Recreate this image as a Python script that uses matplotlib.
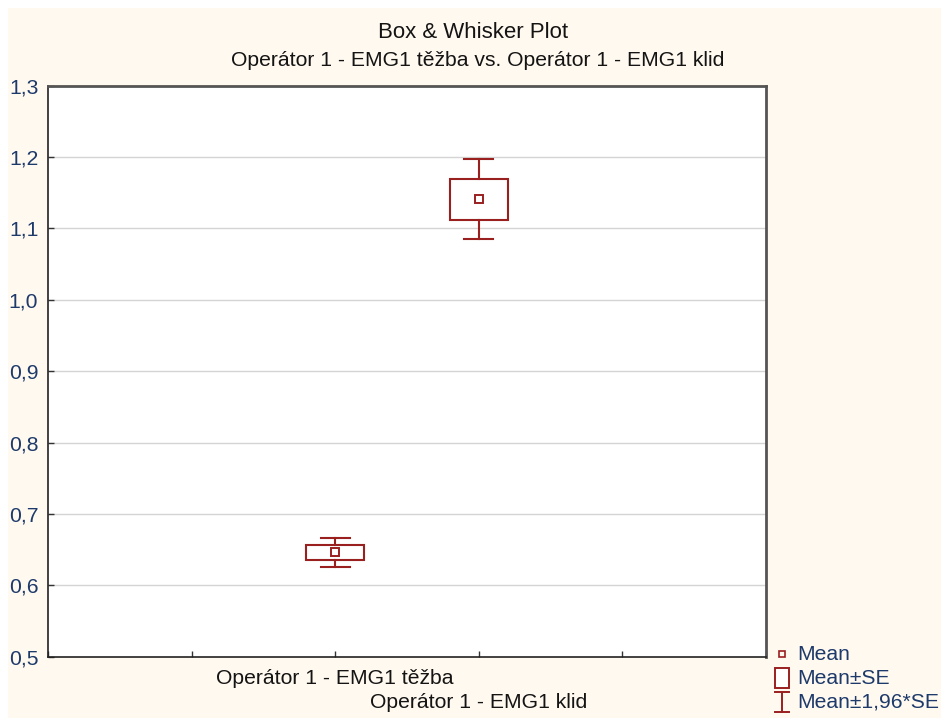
import matplotlib
matplotlib.use("Agg")
import matplotlib.pyplot as plt
from matplotlib.patches import Rectangle
from matplotlib.lines import Line2D

# ---- data ----
categories = ["Operátor 1 - EMG1 těžba", "Operátor 1 - EMG1 klid"]
means = [0.646, 1.141]
se = [0.0105, 0.0287]
y_ticks = [0.5, 0.6, 0.7, 0.8, 0.9, 1.0, 1.1, 1.2, 1.3]
y_tick_labels = ["0,5", "0,6", "0,7", "0,8", "0,9", "1,0", "1,1", "1,2", "1,3"]
title_lines = ["Box & Whisker Plot",
               "Operátor 1 - EMG1 těžba vs. Operátor 1 - EMG1 klid"]
legend_labels = ["Mean", "Mean±SE", "Mean±1,96*SE"]
z = 1.96

RED = "#9a1f1f"
CREAM = "#fff9ef"
TXT = "#141414"
TICKTXT = "#1d3a6b"
FS = 15.2
plt.rcParams["font.family"] = ["Liberation Sans", "DejaVu Sans"]

W, H = 941, 718
fig = plt.figure(figsize=(W / 100, H / 100), dpi=100, facecolor="white")
fig.add_artist(Rectangle((8 / W, 0), 1, 1 - 8 / H, transform=fig.transFigure,
                         facecolor=CREAM, edgecolor="none", zorder=-10))

ax = fig.add_axes([48 / W, (H - 656.7) / H, (766 - 48) / W, (656.7 - 85.7) / H])
ax.set_facecolor("white")
ax.set_xlim(-1, 4)
ax.set_ylim(0.5, 1.3)
ax.set_yticks(y_ticks)
ax.set_yticklabels(y_tick_labels, fontsize=FS, color=TICKTXT)
ax.set_xticks([-1, 0, 1, 2, 3, 4])
ax.set_xticklabels([])
ax.tick_params(axis="both", direction="in", length=4, width=1, color="#333333")
ax.tick_params(axis="y", pad=7)
for s in ax.spines.values():
    s.set_color("#222222")
    s.set_linewidth(1.2)
ax.spines["top"].set_linewidth(2)
ax.spines["right"].set_linewidth(2)
ax.spines["top"].set_color("#555555")
ax.spines["right"].set_color("#555555")
for yt in y_ticks[1:-1]:
    ax.axhline(yt, color="#d4d4d4", lw=1, zorder=0)

box_w = 0.4
cap_w = 0.2
for i, (m, s) in enumerate(zip(means, se)):
    x = i + 1
    lo_b, hi_b = m - s, m + s
    lo_w, hi_w = m - z * s, m + z * s
    ax.add_patch(Rectangle((x - box_w / 2, lo_b), box_w, hi_b - lo_b,
                           facecolor="none", edgecolor=RED, lw=1.5, zorder=3))
    ax.plot([x, x], [hi_b, hi_w], color=RED, lw=1.5, zorder=3)
    ax.plot([x, x], [lo_w, lo_b], color=RED, lw=1.5, zorder=3)
    ax.plot([x - cap_w / 2, x + cap_w / 2], [hi_w, hi_w], color=RED, lw=1.5, zorder=3)
    ax.plot([x - cap_w / 2, x + cap_w / 2], [lo_w, lo_w], color=RED, lw=1.5, zorder=3)
    ax.plot([x], [m], marker="s", ms=6, mfc="none", mec=RED, mew=1.4, zorder=4)

# staggered category labels
for i, cat in enumerate(categories):
    ax.text(i + 1, -0.039 - 0.042 * i, cat, transform=ax.get_xaxis_transform(),
            ha="center", va="center", fontsize=FS, color=TXT, clip_on=False)

# titles
fig.text(473 / W, 1 - 33 / H, title_lines[0], ha="center", va="center",
         fontsize=16, color=TXT)
fig.text(478 / W, 1 - 61 / H, title_lines[1], ha="center", va="center",
         fontsize=FS, color=TXT)

# manual legend
lx = 782 / W
ys = [654, 678, 702]
fig.add_artist(Line2D([lx], [1 - ys[0] / H], marker="s", ms=5, mfc="none",
                      mec=RED, mew=1.2, transform=fig.transFigure))
fig.add_artist(Rectangle(((lx * W - 7) / W, 1 - (ys[1] + 10) / H), 14 / W, 20 / H,
                         transform=fig.transFigure, facecolor="white",
                         edgecolor=RED, lw=1.4))
fig.add_artist(Line2D([lx, lx], [1 - (ys[2] - 10) / H, 1 - (ys[2] + 10) / H],
                      color=RED, lw=1.4, transform=fig.transFigure))
for yy in (ys[2] - 10, ys[2] + 10):
    fig.add_artist(Line2D([lx - 7 / W, lx + 7 / W], [1 - yy / H, 1 - yy / H],
                          color=RED, lw=1.4, transform=fig.transFigure))
for lab, yy in zip(legend_labels, ys):
    fig.text(797 / W, 1 - yy / H, lab, ha="left", va="center", fontsize=FS,
             color=TICKTXT)

fig.savefig("out.png", dpi=100, facecolor=fig.get_facecolor())
